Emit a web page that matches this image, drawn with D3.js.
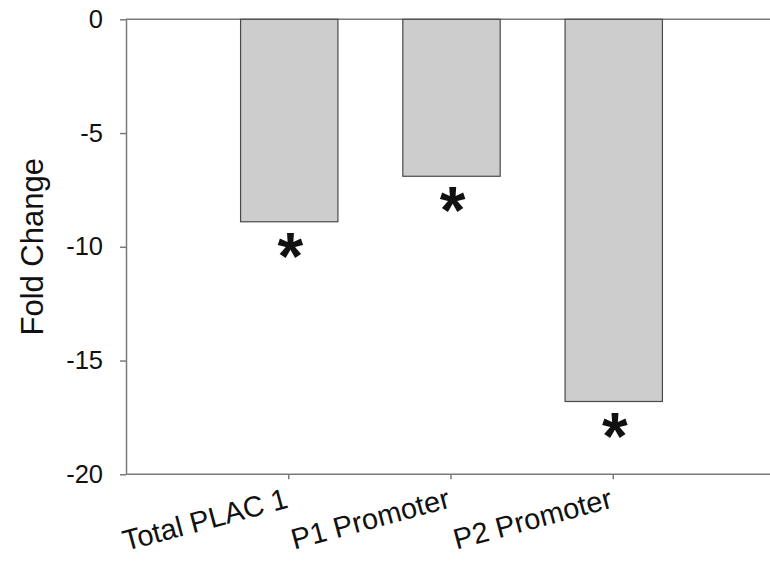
<!DOCTYPE html>
<html>
<head>
<meta charset="utf-8">
<script src="https://cdn.jsdelivr.net/npm/d3@7"></script>
<style>
  body { margin: 0; background: #fff; }
  text { font-family: "Liberation Sans", Arial, sans-serif; fill: #111; }
</style>
</head>
<body>
<div id="chart"></div>
<script>
// data
let categories = ["Total PLAC 1", "P1 Promoter", "P2 Promoter"]
let foldChange = [-8.9, -6.9, -16.8]
let significant = [true, true, true]
let yTicks = [0, -5, -10, -15, -20]

let width = 770, height = 562
let plot = { left: 126, right: 775, top: 19.3, bottom: 474.3 }

let svg = d3.select("#chart")
    .append("svg")
    .attr("width", width)
    .attr("height", height)

let x = d3.scaleBand()
    .domain(categories)
    .range([plot.left, plot.right])
    .paddingInner(0.4)
    .paddingOuter(0.7)

let y = d3.scaleLinear()
    .domain([-20, 0])
    .range([plot.bottom, plot.top])

let axisColor = "#7a7a7a"

// zero line across the top
svg.append("line")
    .attr("x1", plot.left)
    .attr("x2", plot.right)
    .attr("y1", y(0))
    .attr("y2", y(0))
    .attr("stroke", axisColor)
    .attr("stroke-width", 1.5)

// bars
svg.selectAll("rect.bar")
    .data(categories)
    .enter()
    .append("rect")
    .attr("class", "bar")
    .attr("x", d => x(d) + 1)
    .attr("width", x.bandwidth())
    .attr("y", y(0))
    .attr("height", (d, i) => y(foldChange[i]) - y(0))
    .attr("fill", "#cdcdcd")
    .attr("stroke", "#4a4a4a")
    .attr("stroke-width", 1.2)

// asterisks under the bars
svg.selectAll("text.star")
    .data(categories.filter((d, i) => significant[i]))
    .enter()
    .append("text")
    .attr("class", "star")
    .attr("x", d => x(d) + x.bandwidth() / 2 + 2)
    .attr("y", d => y(foldChange[categories.indexOf(d)]) + 57)
    .attr("text-anchor", "middle")
    .style("font-size", "66px")
    .style("font-weight", "bold")
    .text("*")

// y axis
let yAxis = svg.append("g")
    .attr("transform", `translate(${plot.left},0)`)
    .call(d3.axisLeft(y)
        .tickValues(yTicks)
        .tickFormat(d => String(d))
        .tickSize(6)
        .tickSizeOuter(0)
        .tickPadding(17))
yAxis.select(".domain").attr("stroke", axisColor).attr("stroke-width", 1.5)
yAxis.selectAll(".tick line").attr("stroke", axisColor).attr("stroke-width", 1.5)
yAxis.selectAll(".tick text")
    .style("font-size", "25.5px")
    .attr("fill", "#111")

// x axis
let xCenter = d3.scalePoint()
    .domain(categories)
    .range([x(categories[0]) + x.bandwidth() / 2, x(categories[2]) + x.bandwidth() / 2])

let xAxis = svg.append("g")
    .attr("transform", `translate(0,${plot.bottom})`)
    .call(d3.axisBottom(xCenter)
        .tickSize(5)
        .tickSizeOuter(0)
        .tickFormat(""))
xAxis.select(".domain")
    .attr("d", `M${plot.left},0H${plot.right}`)
    .attr("stroke", axisColor)
    .attr("stroke-width", 1.5)
xAxis.selectAll(".tick line").attr("stroke", axisColor).attr("stroke-width", 1.5)

// rotated category labels
svg.selectAll("text.cat")
    .data(categories)
    .enter()
    .append("text")
    .attr("class", "cat")
    .attr("transform", d => `translate(${xCenter(d) + 1},${plot.bottom + 33}) rotate(-15)`)
    .attr("text-anchor", "end")
    .style("font-size", "29px")
    .text(d => d)

// y axis title
svg.append("text")
    .attr("transform", `translate(43,${(plot.top + plot.bottom) / 2}) rotate(-90)`)
    .attr("text-anchor", "middle")
    .style("font-size", "31px")
    .text("Fold Change")
</script>
</body>
</html>
